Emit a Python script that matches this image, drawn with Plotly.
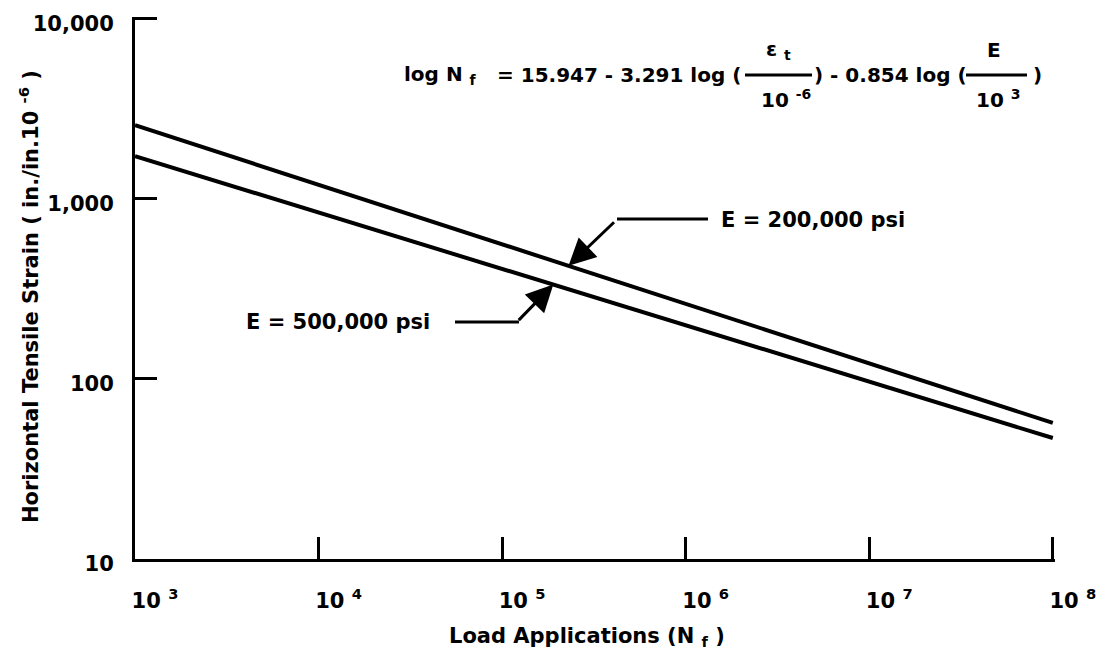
import numpy as np
import plotly.graph_objects as go

# ---- data ----
load_applications = [1e3, 1e8]
strain_e200k = [2570, 57]      # E = 200,000 psi
strain_e500k = [1730, 47]      # E = 500,000 psi

x_tickvals = [1e3, 1e4, 1e5, 1e6, 1e7, 1e8]
x_ticktext = ["10 <sup>3</sup>", "10 <sup>4</sup>", "10 <sup>5</sup>",
              "10 <sup>6</sup>", "10 <sup>7</sup>", "10 <sup>8</sup>"]
y_tickvals = [10, 100, 1000, 10000]
y_ticktext = ["10", "100", "1,000", "10,000"]

arrow_n_200k = 2.3e5
arrow_n_500k = 1.9e5

W, H = 1108, 658
ML, MR, MT, MB = 135, 53, 17, 99
FONT = "DejaVu Sans"
FS = 21
EQ = 20


def px(x):
    return (x - ML) / (W - ML - MR)


def py(y):
    return (H - MB - y) / (H - MT - MB)


def on_line(n, xs, ys):
    return float(np.interp(np.log10(n), np.log10(xs), np.log10(ys)))


def font(size=FS):
    return dict(family=FONT, size=size, color="black", weight="bold")


fig = go.Figure()
for ys in (strain_e200k, strain_e500k):
    fig.add_trace(go.Scatter(x=load_applications, y=ys, mode="lines",
                             line=dict(color="black", width=4),
                             showlegend=False, hoverinfo="skip"))

axis_common = dict(showline=True, linewidth=3, linecolor="black", ticks="inside",
                   ticklen=22, tickwidth=3, tickcolor="black", showgrid=False,
                   zeroline=False, tickfont=font())

fig.update_xaxes(type="log", range=[3, 8.012], tickvals=x_tickvals, ticktext=x_ticktext,
                 ticklabelshift=20, ticklabelstandoff=21, **axis_common)
fig.update_yaxes(type="log", range=[1, 4.011], tickvals=y_tickvals, ticktext=y_ticktext,
                 ticklabelshift=5, ticklabelstandoff=14, **axis_common)

ann = []
shapes = []


def text(s, x, y, xa="center", ya="middle", size=FS, angle=0):
    ann.append(dict(text=s, x=px(x), y=py(y), xref="paper", yref="paper",
                    xanchor=xa, yanchor=ya, showarrow=False, font=font(size),
                    textangle=angle))


def hline(x0, x1, y, w=3):
    shapes.append(dict(type="line", xref="paper", yref="paper",
                       x0=px(x0), x1=px(x1), y0=py(y), y1=py(y),
                       line=dict(color="black", width=w)))

# axis titles
text("Load Applications (N <sub>f</sub> )", 587, 637)
text("Horizontal Tensile Strain ( in./in.10 <sup>-6</sup> )", 29, 297, angle=-90)

# equation
y_main, y_num, y_den = 75, 50, 99
text("log N <sub>f</sub>", 402, y_main, xa="left", size=EQ)
text("= 15.947 - 3.291 log (", 743, y_main, xa="right", size=EQ)
hline(745, 812, y_main)
text("ε <sub>t</sub>", 778, y_num, size=EQ)
text("10 <sup>-6</sup>", 786, y_den, size=EQ)
text(") - 0.854 log (", 890, y_main, size=EQ)
hline(966, 1027, y_main)
text("E", 994, y_num, size=EQ)
text("10 <sup>3</sup>", 998, y_den, size=EQ)
text(")", 1031, y_main, xa="left", size=EQ)

# labels with leaders
text("E = 200,000 psi", 719, 220, xa="left")
hline(617, 708, 219)
text("E = 500,000 psi", 432, 322, xa="right")
hline(455, 519, 322)

ann.append(dict(x=np.log10(arrow_n_200k),
                y=on_line(arrow_n_200k, load_applications, strain_e200k),
                xref="x", yref="y", ax=47, ay=-45, axref="pixel", ayref="pixel",
                text="", showarrow=True, arrowhead=2, arrowsize=1.8, arrowwidth=3,
                arrowcolor="black"))
ann.append(dict(x=np.log10(arrow_n_500k),
                y=on_line(arrow_n_500k, load_applications, strain_e500k),
                xref="x", yref="y", ax=-36, ay=37, axref="pixel", ayref="pixel",
                text="", showarrow=True, arrowhead=2, arrowsize=1.8, arrowwidth=3,
                arrowcolor="black"))

fig.update_layout(width=W, height=H, margin=dict(l=ML, r=MR, t=MT, b=MB, autoexpand=False),
                  plot_bgcolor="white", paper_bgcolor="white",
                  font=font(), annotations=ann, shapes=shapes, showlegend=False)

fig.write_html("out.html", config={"displayModeBar": False},
               post_script="document.body.style.margin='0';")
